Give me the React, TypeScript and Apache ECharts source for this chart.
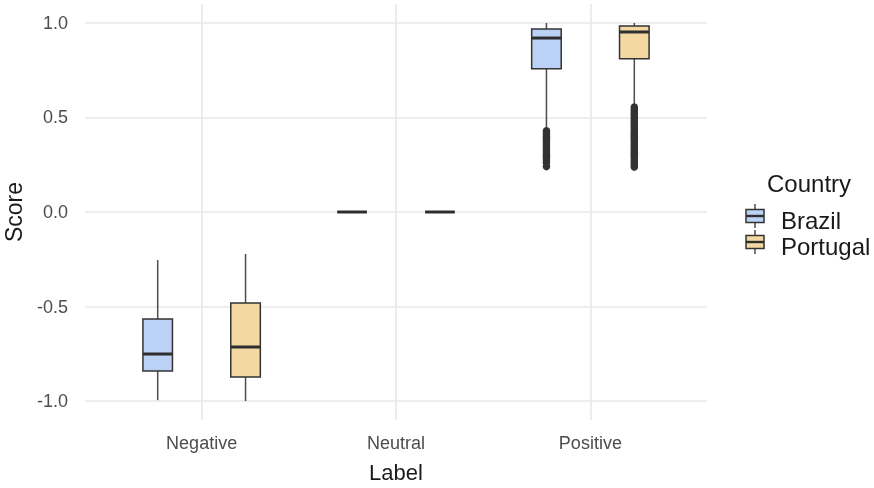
import React, { useEffect, useRef } from "react";
import * as echarts from "echarts";

const categories = ["Negative", "Neutral", "Positive"];
const countries = ["Brazil", "Portugal"];
const yTicks = [-1, -0.5, 0, 0.5, 1];

// [lower whisker, q1, median, q3, upper whisker] per category
const brazilStats = [
  [-0.995, -0.841, -0.751, -0.566, -0.254],
  [0, 0, 0, 0, 0],
  [0.444, 0.757, 0.92, 0.968, 1.0],
];
const portugalStats = [
  [-1.0, -0.873, -0.714, -0.481, -0.222],
  [0, 0, 0, 0, 0],
  [0.566, 0.81, 0.952, 0.984, 1.0],
];

// outliers in the "Positive" category
const brazilOutliers = [
  0.43, 0.42, 0.41, 0.4, 0.39, 0.38, 0.37, 0.36, 0.35, 0.34, 0.33, 0.32, 0.31,
  0.3, 0.29, 0.28, 0.27, 0.26, 0.24,
];
const portugalOutliers = [
  0.555, 0.545, 0.535, 0.525, 0.515, 0.505, 0.495, 0.485, 0.475, 0.465, 0.455,
  0.445, 0.435, 0.425, 0.415, 0.405, 0.395, 0.385, 0.375, 0.365, 0.355, 0.345,
  0.335, 0.325, 0.315, 0.305, 0.295, 0.285, 0.275, 0.265, 0.255, 0.245, 0.238,
];

const FILLS = ["#BBD2F6", "#F4D8A2"];
const DODGE = 0.226;
const BOX_W = 0.152;
const FONT = "'Liberation Sans', Arial, sans-serif";

export default function App() {
  const ref = useRef<HTMLDivElement>(null);

  useEffect(() => {
    if (!ref.current) return;
    const chart = echarts.init(ref.current, null, { renderer: "svg" });

    const statsBySeries = [brazilStats, portugalStats];
    const outliersBySeries = [brazilOutliers, portugalOutliers];
    const offsets = [-DODGE, DODGE];

    const renderBox = (fill: string) => (params: any, api: any) => {
      const x = api.value(0);
      const low = api.coord([x, api.value(1)]);
      const q1 = api.coord([x, api.value(2)]);
      const med = api.coord([x, api.value(3)]);
      const q3 = api.coord([x, api.value(4)]);
      const high = api.coord([x, api.value(5)]);
      const hw = api.size([BOX_W, 0])[0] / 2;
      const cx = med[0];
      return {
        type: "group",
        children: [
          {
            type: "line",
            shape: { x1: cx, y1: high[1], x2: cx, y2: q3[1] },
            style: { stroke: "#4d4d4d", lineWidth: 1.5 },
          },
          {
            type: "line",
            shape: { x1: cx, y1: q1[1], x2: cx, y2: low[1] },
            style: { stroke: "#4d4d4d", lineWidth: 1.5 },
          },
          {
            type: "rect",
            shape: { x: cx - hw, y: q3[1], width: hw * 2, height: q1[1] - q3[1] },
            style: { fill, stroke: "#333333", lineWidth: 1.5 },
          },
          {
            type: "line",
            shape: { x1: cx - hw, y1: med[1], x2: cx + hw, y2: med[1] },
            style: { stroke: "#2e2e2e", lineWidth: 3 },
          },
        ],
      };
    };

    const series: any[] = [];
    countries.forEach((name, s) => {
      series.push({
        name,
        type: "custom",
        renderItem: renderBox(FILLS[s]),
        encode: { x: 0, y: [1, 2, 3, 4, 5] },
        data: statsBySeries[s].map((st, i) => [i + 1 + offsets[s], ...st]),
        z: 2,
      });
      series.push({
        name: name + " outliers",
        type: "scatter",
        symbolSize: 7.5,
        itemStyle: { color: "#333333", opacity: 1 },
        data: outliersBySeries[s].map((v) => [3 + offsets[s], v]),
        z: 3,
      });
    });

    const legendItems: any[] = [];
    countries.forEach((name, s) => {
      const cy = 216 + s * 26;
      legendItems.push(
        {
          type: "line",
          shape: { x1: 755, y1: cy - 12, x2: 755, y2: cy + 12 },
          style: { stroke: "#4d4d4d", lineWidth: 1.5 },
        },
        {
          type: "rect",
          shape: { x: 746, y: cy - 6.5, width: 18, height: 13 },
          style: { fill: FILLS[s], stroke: "#333333", lineWidth: 1.5 },
        },
        {
          type: "line",
          shape: { x1: 746, y1: cy, x2: 764, y2: cy },
          style: { stroke: "#2e2e2e", lineWidth: 2.4 },
        },
        {
          type: "text",
          x: 781,
          y: cy + 4,
          style: {
            text: name,
            font: `24px ${FONT}`,
            fill: "#1a1a1a",
            textVerticalAlign: "middle",
            verticalAlign: "middle",
          },
        }
      );
    });

    chart.setOption({
      animation: false,
      grid: {
        left: 85,
        right: 167,
        top: 4,
        bottom: 68,
        containLabel: false,
        outerBoundsMode: "none",
      },
      xAxis: {
        type: "value",
        min: 0.4,
        max: 3.6,
        axisLine: { show: false },
        axisTick: { show: false, customValues: [1, 2, 3] },
        axisLabel: {
          customValues: [1, 2, 3],
          formatter: (v: number) => categories[Math.round(v) - 1] ?? "",
          color: "#4d4d4d",
          fontSize: 18,
          fontFamily: FONT,
          margin: 14,
        },
        splitLine: { show: true, lineStyle: { color: "#e8e8e8", width: 1.6 } },
        name: "Label",
        nameLocation: "middle",
        nameGap: 43,
        nameTextStyle: {
          color: "#1a1a1a",
          fontSize: 22,
          lineHeight: 18,
          fontFamily: FONT,
        },
      },
      yAxis: {
        type: "value",
        min: -1.1,
        max: 1.1,
        axisLine: { show: false },
        axisTick: { show: false, customValues: yTicks },
        axisLabel: {
          customValues: yTicks,
          formatter: (v: number) => v.toFixed(1),
          color: "#4d4d4d",
          fontSize: 18,
          fontFamily: FONT,
          margin: 17,
        },
        splitLine: { show: true, lineStyle: { color: "#e8e8e8", width: 1.6 } },
        name: "Score",
        nameLocation: "middle",
        nameGap: 60,
        nameTextStyle: { color: "#1a1a1a", fontSize: 23, fontFamily: FONT },
      },
      graphic: [
        {
          type: "text",
          x: 767,
          y: 183,
          style: {
            text: "Country",
            font: `24px ${FONT}`,
            fill: "#1a1a1a",
            textVerticalAlign: "middle",
            verticalAlign: "middle",
          },
        },
        ...legendItems,
      ],
      series,
    });

    return () => chart.dispose();
  }, []);

  return (
    <div
      ref={ref}
      style={{ position: "fixed", left: 0, top: 0, width: 874, height: 488 }}
    />
  );
}
